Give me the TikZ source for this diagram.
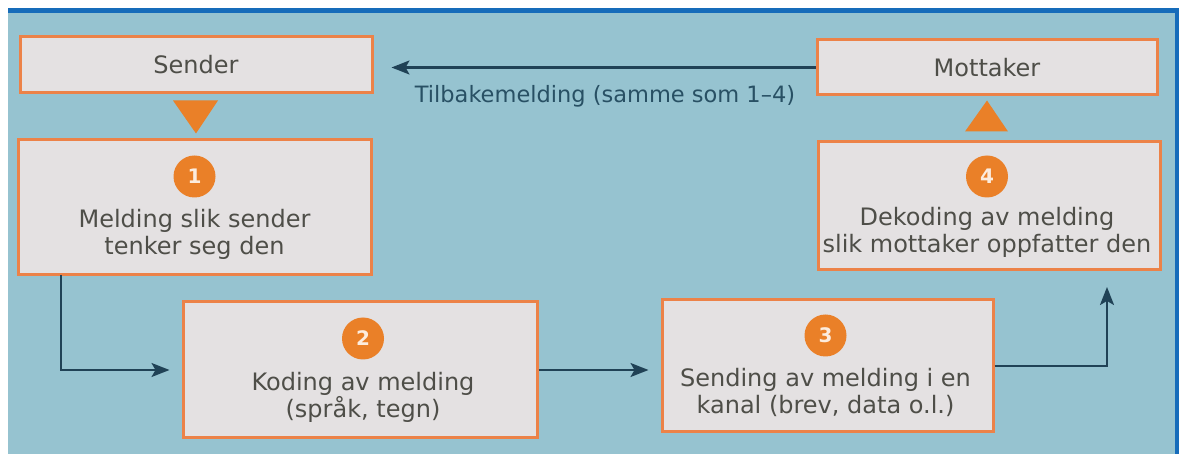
\documentclass[tikz,border=0pt]{standalone}
\usepackage{fontspec}
\setmainfont{DejaVu Sans}
\usetikzlibrary{arrows.meta,calc}
\definecolor{bgblue}{RGB}{150,195,208}
\definecolor{edgeblue}{RGB}{22,108,186}
\definecolor{boxfill}{RGB}{228,225,226}
\definecolor{boxline}{RGB}{236,130,72}
\definecolor{numfill}{RGB}{234,128,40}
\definecolor{txt}{RGB}{78,78,72}
\definecolor{arrcol}{RGB}{32,66,86}
\definecolor{lbl}{RGB}{40,80,100}
\tikzset{
  x=1pt, y=-1pt,
  box/.style={draw=boxline, line width=3pt, fill=boxfill, rectangle, inner sep=0pt},
  numcirc/.style={circle, fill=numfill, minimum size=42pt, inner sep=0pt,
    text={rgb,255:red,252;green,236;blue,222}, font=\fontsize{20}{20}\selectfont\bfseries},
  boxtext/.style={text=txt, align=center, font=\fontsize{24}{26.5}\selectfont},
  arr/.style={draw=arrcol, line width=2.2pt, -{Stealth[length=18pt,width=14pt,inset=4pt]}},
  tri/.style={fill=numfill, draw=none}
}
\begin{document}
\begin{tikzpicture}
\useasboundingbox (0,0) rectangle (1179,454);
\fill[white] (0,0) rectangle (1179,454);
\fill[bgblue] (8,8) rectangle (1179,454);
\fill[edgeblue] (8,8) rectangle (1179,13);
\fill[edgeblue] (1175,8) rectangle (1179,454);

% boxes
\node[box, minimum width=352pt, minimum height=56pt] (sender) at (196,65) {};
\node[text=txt, font=\fontsize{24}{26}\selectfont] at (sender.center) {Sender};
\node[box, minimum width=340pt, minimum height=55pt] (mott) at (987,67.5) {};
\node[text=txt, font=\fontsize{24}{26}\selectfont] at (mott.center) {Mottaker};

\node[box, minimum width=353pt, minimum height=135pt] (b1) at (194.5,207.5) {};
\node[box, minimum width=354pt, minimum height=136pt] (b2) at (360,370) {};
\node[box, minimum width=331pt, minimum height=132pt] (b3) at (827.5,366) {};
\node[box, minimum width=342pt, minimum height=128pt] (b4) at (989,206) {};

\node[numcirc] (n1) at ($(b1.north)+(0,38)$) {1};
\node[numcirc] (n2) at ($(b2.north)+(3,38)$) {2};
\node[numcirc] (n3) at ($(b3.north)+(-2,37)$) {3};
\node[numcirc] (n4) at ($(b4.north)+(-2,36)$) {4};

\node[boxtext] (t1) at ($(b1.north)+(0,96)$) {Melding slik sender\\tenker seg den};
\node[boxtext] (t2) at ($(b2.north)+(3,97)$) {Koding av melding\\(språk, tegn)};
\node[boxtext] (t3) at ($(b3.north)+(-2,94)$) {Sending av melding i en\\kanal (brev, data o.l.)};
\node[boxtext] (t4) at ($(b4.north)+(-2,92)$) {Dekoding av melding\\slik mottaker oppfatter den};

% triangles
\fill[tri] ($(sender.south)+(-23,6)$) -- ($(sender.south)+(22,6)$) -- ($(sender.south)+(0,39)$) -- cycle;
\fill[tri] ($(b4.north)+(-24,-9)$) -- ($(b4.north)+(19,-9)$) -- ($(b4.north)+(-2,-40)$) -- cycle;

% connectors
\coordinate (c1) at (61,275);
\coordinate (c2) at (1107,270);
\draw[arr, shorten >=18pt] (mott.west) -- (mott.west -| sender.east);
\node[text=lbl, font=\fontsize{22.5}{24}\selectfont, anchor=base] (fb) at (605,103) {Tilbakemelding (samme som 1–4)};
\draw[arr, shorten >=12pt] (c1) |- (b2.west);
\draw[arr, shorten >=12pt] (b2.east) -- (b2.east -| b3.west);
\draw[arr, shorten >=17pt] (b3.east) -| (c2);
\end{tikzpicture}
\end{document}
